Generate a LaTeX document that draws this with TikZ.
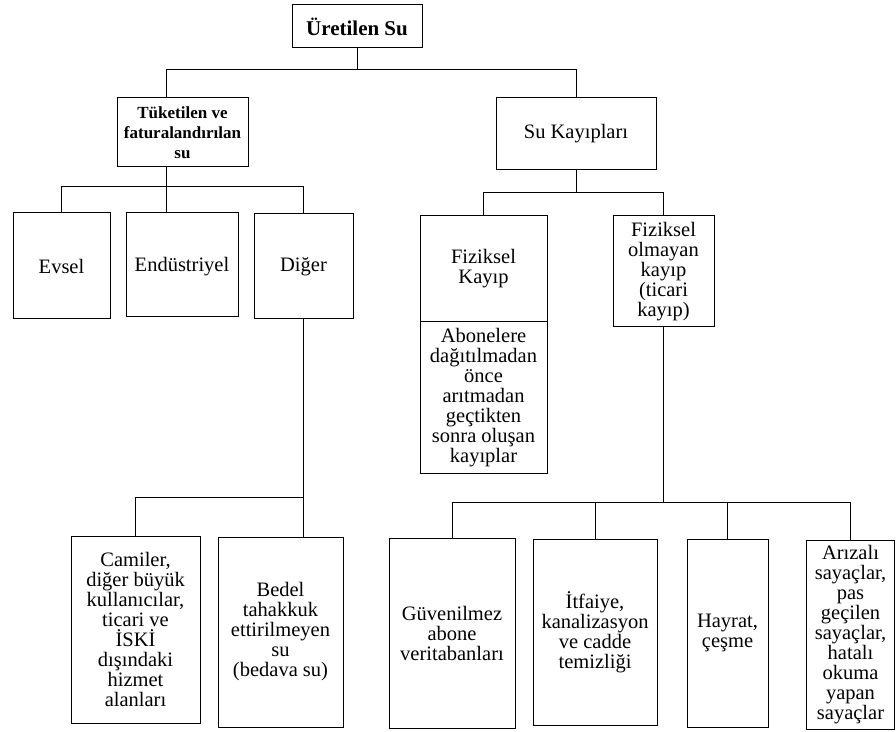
\documentclass[tikz,border=0pt]{standalone}
\usepackage{fontspec}
\setmainfont{Liberation Serif}
\usepackage{tikz}

\begin{document}
\begin{tikzpicture}[x=1pt,y=1pt,line width=1pt,
  kutu/.style={shape=rectangle,draw,align=center,inner sep=1pt,font=\fontsize{20.5}{20}\selectfont},
  baslik/.style={kutu,font=\fontsize{17}{20}\selectfont\bfseries}]
%[px coordinates, y up]
\useasboundingbox (0,0) rectangle (896,731);
\path (357,704.5) node (uretilen) [baslik,font=\fontsize{21}{20}\selectfont\bfseries,minimum width=130,minimum height=43] {Üretilen Su};
\path (182.5,598.5) node (tuketilen) [baslik,minimum width=131,minimum height=69] {Tüketilen ve\\faturalandırılan\\su};
\path (576,597) node (kayiplar) [kutu,minimum width=160,minimum height=72] {Su Kayıpları};
\path (61.5,465) node (evsel) [kutu,minimum width=97,minimum height=106] {Evsel};
\path (182,466) node (endustriyel) [kutu,minimum width=112,minimum height=104,text height=14pt,text depth=0pt] {Endüstriyel};
\path (303.5,464.5) node (diger) [kutu,minimum width=99,minimum height=105] {Diğer};
\path (483.5,462) node (fiziksel) [kutu,minimum width=127,minimum height=106] {Fiziksel\\Kayıp};
\path (483.5,333) node (aciklama) [kutu,minimum width=127,minimum height=152] {Abonelere\\dağıtılmadan\\önce\\arıtmadan\\geçtikten\\sonra oluşan\\kayıplar};
\path (663.5,459.5) node (olmayan) [kutu,minimum width=101,minimum height=111] {Fiziksel\\olmayan\\kayıp\\(ticari\\kayıp)};
\path (135.5,101.5) node (camiler) [kutu,minimum width=129,minimum height=187] {Camiler,\\diğer büyük\\kullanıcılar,\\ticari ve\\İSKİ\\dışındaki\\hizmet\\alanları};
\path (280.5,99) node (bedel) [kutu,minimum width=125,minimum height=190] {Bedel\\tahakkuk\\ettirilmeyen\\su\\(bedava su)};
\path (452,98) node (guvenilmez) [kutu,minimum width=126,minimum height=190] {Güvenilmez\\abone\\veritabanları};
\path (595,99) node (itfaiye) [kutu,minimum width=124,minimum height=186] {İtfaiye,\\kanalizasyon\\ve cadde\\temizliği};
\path (727.5,98) node (hayrat) [kutu,minimum width=81,minimum height=188] {Hayrat,\\çeşme};
\path (850.5,96.5) node (arizali) [kutu,minimum width=88,minimum height=189] {Arızalı\\sayaçlar,\\pas\\geçilen\\sayaçlar,\\hatalı\\okuma\\yapan\\sayaçlar};

\coordinate (sol) at (166,661);
\coordinate (orta) at (166,544);
\coordinate (sag) at (575,538);
\coordinate (alt1) at (303,233);
\coordinate (alt2) at (665,228);

\draw (uretilen.south) -- (uretilen.south |- sol);
\draw (tuketilen.north -| sol) |- (kayiplar.north |- sol) -- (kayiplar.north);
\draw (tuketilen.south -| orta) -- (endustriyel.north -| orta);
\draw (evsel.north) |- (diger.north |- orta) -- (diger.north);
\draw (kayiplar.south) -- (kayiplar.south |- sag);
\draw (fiziksel.north) |- (olmayan.north |- sag) -- (olmayan.north);
\draw (diger.south) -- (diger.south |- bedel.north);
\draw (camiler.north) |- (diger.south |- alt1);
\draw (olmayan.south) -- (olmayan.south |- alt2);
\draw (guvenilmez.north) |- (arizali.north |- alt2) -- (arizali.north);
\draw (itfaiye.north) -- (itfaiye.north |- alt2);
\draw (hayrat.north) -- (hayrat.north |- alt2);
\end{tikzpicture}
\end{document}
